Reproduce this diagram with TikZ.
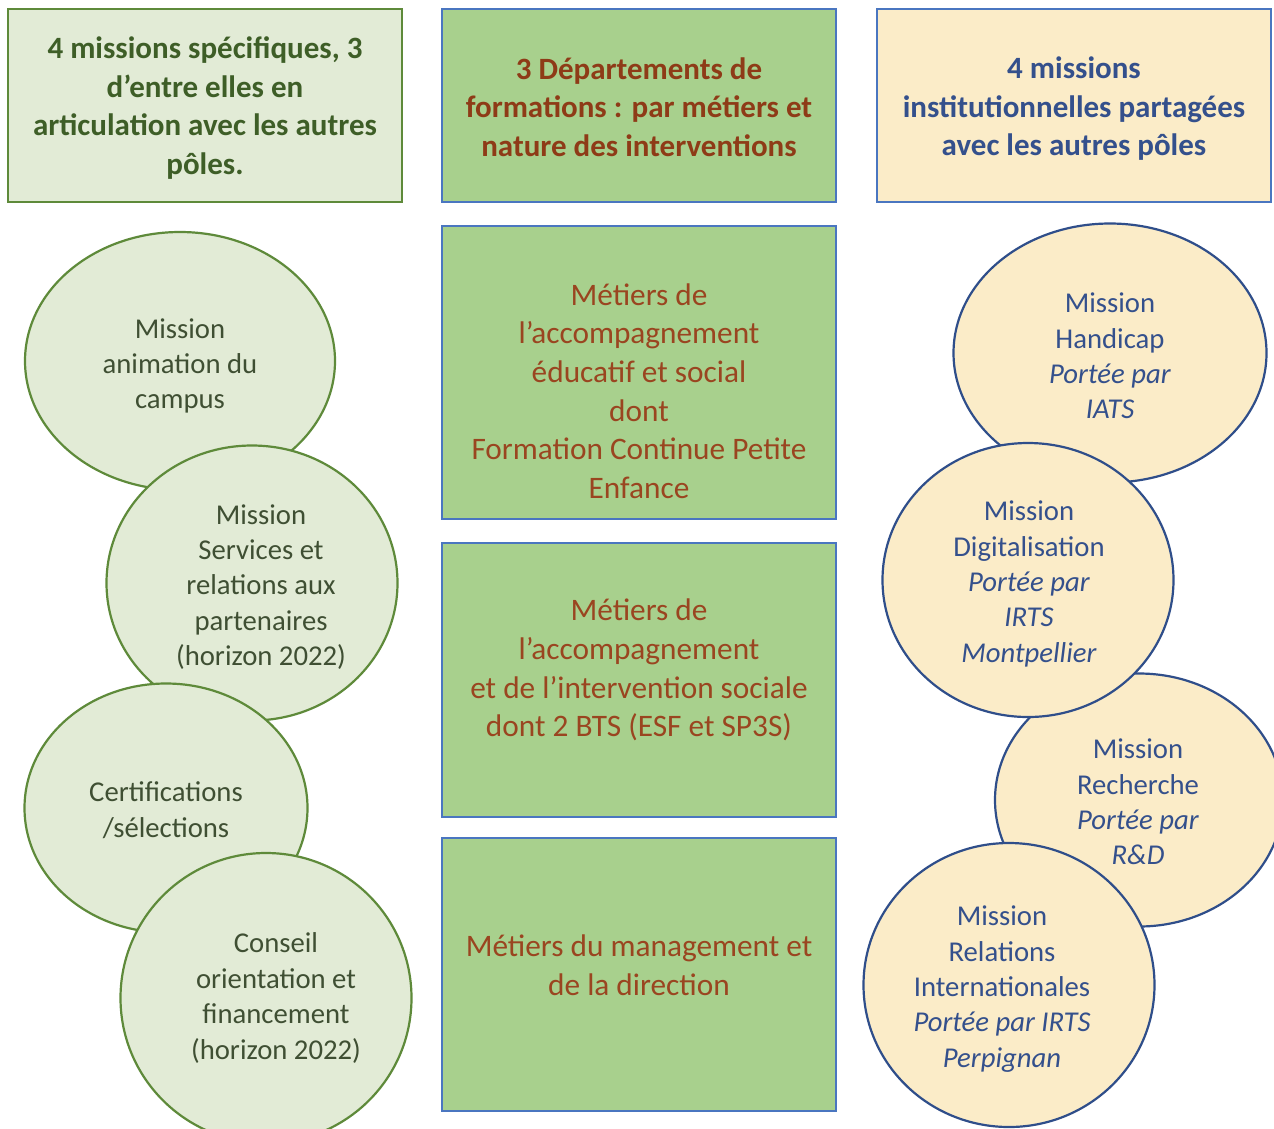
\documentclass[tikz,border=0pt]{standalone}
\usepackage{fontspec}
\setmainfont{Carlito}
\usetikzlibrary{shapes.geometric}
\definecolor{lgfill}{HTML}{E2EBD6}
\definecolor{lgline}{HTML}{5E8A3A}
\definecolor{lgtext}{HTML}{3F4F33}
\definecolor{lgtitle}{HTML}{3E5E27}
\definecolor{mgfill}{HTML}{A8D08D}
\definecolor{boxblue}{HTML}{4A76C0}
\definecolor{redtext}{HTML}{8E3B17}
\definecolor{redbody}{HTML}{9A4520}
\definecolor{cream}{HTML}{FBECC8}
\definecolor{cline}{HTML}{2F4E8A}
\definecolor{ctext}{HTML}{34508C}
\tikzset{
  titlefont/.style={font=\fontsize{31}{38.5}\selectfont\bfseries},
  bodyfont/.style={font=\fontsize{31.3}{38.6}\selectfont},
  circfont/.style={font=\fontsize{28.7}{35.4}\selectfont},
  txt/.style={inner sep=0pt, align=center},
  greenbox/.style={draw=lgline, fill=lgfill, line width=2.5pt},
  midbox/.style={draw=boxblue, fill=mgfill, line width=2.5pt},
  creambox/.style={draw=boxblue, fill=cream, line width=2.5pt},
  gcirc/.style={ellipse, draw=lgline, fill=lgfill, line width=2.2pt, inner sep=0pt},
  ccirc/.style={ellipse, draw=cline, fill=cream, line width=2.2pt, inner sep=0pt},
}
\begin{document}
\begin{tikzpicture}[x=1pt,y=-1pt]
\useasboundingbox (0,0) rectangle (1274,1128);
\clip (0,0) rectangle (1274,1128);
\fill[white] (0,0) rectangle (1274,1128);

% top header boxes
\draw[greenbox] (8,9) rectangle (402,202);
\node[txt, titlefont, text=lgtitle] (t1) at (205,108) {4 missions spécifiques, 3\\d’entre elles en\\articulation avec les autres\\pôles.};
\draw[midbox] (442,9) rectangle (836,202);
\node[txt, titlefont, text=redtext] (t2) at (639,107) {3 Départements de\\formations : par métiers et\\nature des interventions};
\draw[creambox] (877,9) rectangle (1271,202);
\node[txt, titlefont, text=ctext] (t3) at (1074,109) {4 missions\\institutionnelles partagées\\avec les autres pôles};

% middle boxes
\draw[midbox] (442,226) rectangle (836,519);
\node[txt, bodyfont, text=redbody] (m1) at (639,391) {Métiers de\\l’accompagnement\\éducatif et social\\dont\\Formation Continue Petite\\Enfance};
\draw[midbox] (442,543) rectangle (836,817);
\node[txt, bodyfont, text=redbody] (m2) at (639,670) {Métiers de\\l’accompagnement\\et de l’intervention sociale\\dont 2 BTS (ESF et SP3S)};
\draw[midbox] (442,838) rectangle (836,1111);
\node[txt, bodyfont, text=redbody] (m3) at (639,965) {Métiers du management et\\de la direction};

% left circles
\node[gcirc, minimum width=310pt, minimum height=258pt] (l1) at (180,361) {};
\node[txt, circfont, text=lgtext] (l1t) at (180,366) {Mission\\animation du\\campus};
\node[gcirc, minimum width=291pt, minimum height=275pt] (l2) at (252,583) {};
\node[txt, circfont, text=lgtext] (l2t) at (261,587) {Mission\\Services et\\relations aux\\partenaires\\(horizon 2022)};
\node[gcirc, minimum width=283pt, minimum height=249pt] (l3) at (166,808) {};
\node[txt, circfont, text=lgtext] (l3t) at (166,810) {Certifications\\/sélections};
\node[gcirc, minimum width=291pt, minimum height=290pt] (l4) at (266,998) {};
\node[txt, circfont, text=lgtext] (l4t) at (276,998) {Conseil\\orientation et\\financement\\(horizon 2022)};

% right circles
\node[ccirc, minimum width=313pt, minimum height=259pt] (r1) at (1110,353) {};
\node[txt, circfont, text=ctext] (r1t) at (1110,356) {Mission\\Handicap\\\textit{Portée par}\\\textit{IATS}};
\node[ccirc, minimum width=288pt, minimum height=253pt] (r3) at (1139,800) {};
\node[txt, circfont, text=ctext] (r3t) at (1138,802) {Mission\\Recherche\\\textit{Portée par}\\\textit{R\&D}};
\node[ccirc, minimum width=291pt, minimum height=274pt] (r2) at (1028,580) {};
\node[txt, circfont, text=ctext] (r2t) at (1029,584) {Mission\\Digitalisation\\\textit{Portée par}\\\textit{IRTS}\\\textit{Montpellier}};
\node[ccirc, minimum width=291pt, minimum height=284pt] (r4) at (1009,985) {};
\node[txt, circfont, text=ctext] (r4t) at (1002,989) {Mission\\Relations\\Internationales\\\textit{Portée par IRTS}\\\textit{Perpignan}};
\end{tikzpicture}
\end{document}
